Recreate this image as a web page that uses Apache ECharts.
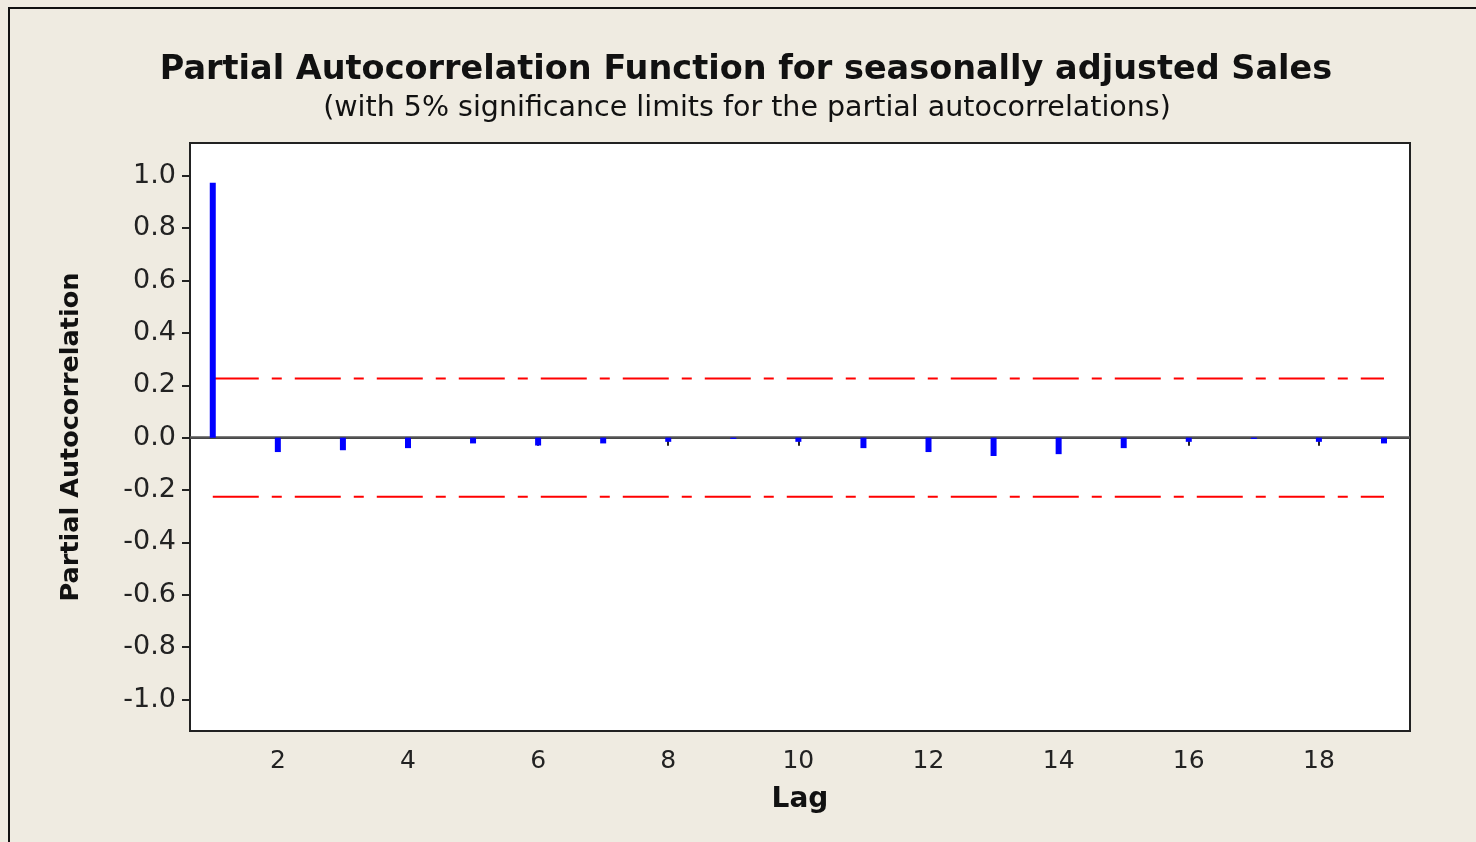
<!DOCTYPE html>
<html>
<head>
<meta charset="utf-8">
<script src="https://cdn.jsdelivr.net/npm/echarts@6/dist/echarts.min.js"></script>
<style>
html,body{margin:0;padding:0;background:#EFEBE1;}
#chart{width:1476px;height:842px;}
</style>
</head>
<body>
<div id="chart"></div>
<script>
// Data
const lags = [1,2,3,4,5,6,7,8,9,10,11,12,13,14,15,16,17,18,19];
const pacf = [0.973,-0.055,-0.048,-0.040,-0.022,-0.030,-0.022,-0.016,-0.005,-0.016,-0.040,-0.055,-0.070,-0.063,-0.040,-0.016,-0.005,-0.016,-0.022];
const upperLimit = 0.226;
const lowerLimit = -0.226;
const xTicks = [2,4,6,8,10,12,14,16,18];
const yTicks = [-1.0,-0.8,-0.6,-0.4,-0.2,0.0,0.2,0.4,0.6,0.8,1.0];
const titleText = 'Partial Autocorrelation Function for seasonally adjusted Sales';
const subtitleText = '(with 5% significance limits for the partial autocorrelations)';

const chart = echarts.init(document.getElementById('chart'));
const font = 'DejaVu Sans';
const limitX = [lags[0], lags[lags.length-1]];

chart.setOption({
  backgroundColor: '#EFEBE1',
  animation: false,
  title: [
    {text: titleText, left: 741, textAlign:'center', top: 48, textStyle:{fontFamily:font, fontSize:33.5, fontWeight:'bold', color:'#111'}},
    {text: subtitleText, left: 742, textAlign:'center', top: 89, textStyle:{fontFamily:font, fontSize:28.5, fontWeight:'normal', color:'#111'}}
  ],
  graphic: [
    {type:'rect', shape:{x:9, y:8, width:1480, height:850}, style:{fill:'none', stroke:'#111', lineWidth:2}, silent:true}
  ],
  grid: {left:190, top:143, right:66, bottom:111, show:true, backgroundColor:'#ffffff', borderColor:'#222', borderWidth:2},
  xAxis: {
    type:'value', min:0.65, max:19.4,
    name:'Lag', nameLocation:'middle', nameGap:55,
    nameTextStyle:{fontFamily:font, fontSize:28, fontWeight:'bold', color:'#111'},
    axisLine:{show:true, lineStyle:{color:'#222', width:2}},
    axisTick:{show:true, customValues:xTicks, length:8, lineStyle:{color:'#222', width:2}},
    axisLabel:{customValues:xTicks, fontFamily:font, fontSize:25, color:'#222', margin:18},
    splitLine:{show:false}
  },
  yAxis: {
    type:'value', min:-1.12, max:1.125,
    name:'Partial Autocorrelation', nameLocation:'middle', nameGap:106, nameRotate:90,
    nameTextStyle:{fontFamily:font, fontSize:25.5, fontWeight:'bold', color:'#111'},
    axisLine:{show:true, lineStyle:{color:'#222', width:2}},
    axisTick:{show:true, customValues:yTicks, length:8, lineStyle:{color:'#222', width:2}},
    axisLabel:{customValues:yTicks, formatter:v=>v.toFixed(1), fontFamily:font, fontSize:27, color:'#222', margin:14},
    splitLine:{show:false}
  },
  series: [
    {
      type:'bar', barWidth:6, itemStyle:{color:'#0000FF'},
      data: lags.map((l,i)=>[l,pacf[i]]),
      z:5
    },
    {
      type:'line', symbol:'none', silent:true,
      lineStyle:{color:'#FF0000', width:2, type:[46,13,10,13]},
      data: limitX.map(x=>[x, upperLimit]), z:2,
      markLine:{silent:true, symbol:'none', label:{show:false}, lineStyle:{color:'#555', width:2.5, type:'solid'}, data:[{yAxis:0}], z:1}
    },
    {
      type:'line', symbol:'none', silent:true,
      lineStyle:{color:'#FF0000', width:2, type:[46,13,10,13]},
      data: limitX.map(x=>[x, lowerLimit]), z:2
    }
  ]
});
</script>
</body>
</html>
